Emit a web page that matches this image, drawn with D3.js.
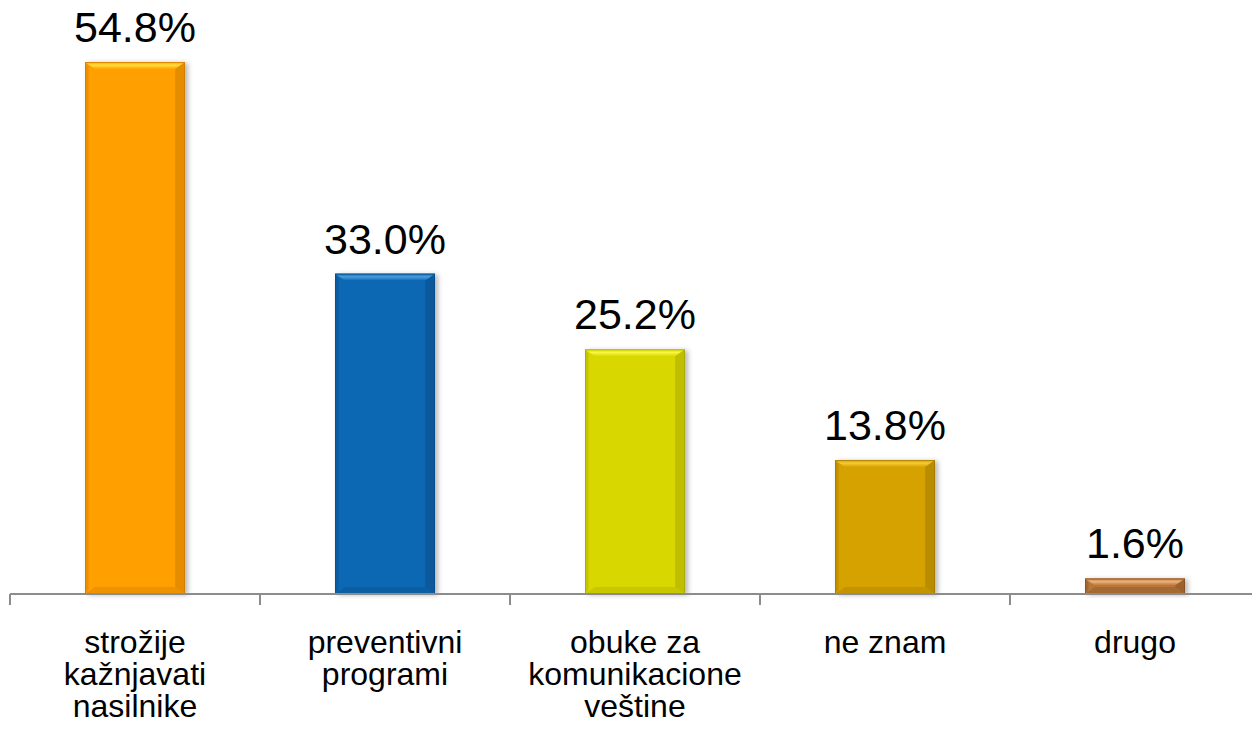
<!DOCTYPE html>
<html>
<head>
<meta charset="utf-8">
<script src="https://cdn.jsdelivr.net/npm/d3@7"></script>
<style>
  body { margin: 0; background: #fff; }
  text { font-family: Arial, "Liberation Sans", sans-serif; fill: #000; }
</style>
</head>
<body>
<svg id="chart" width="1252" height="730"></svg>
<script>
/* chart data */
const categories = ['strožije kažnjavati nasilnike', 'preventivni programi',
                    'obuke za komunikacione veštine', 'ne znam', 'drugo'];
const labelLines = [['strožije', 'kažnjavati', 'nasilnike'],
                    ['preventivni', 'programi'],
                    ['obuke za', 'komunikacione', 'veštine'],
                    ['ne znam'],
                    ['drugo']];
const values = [54.8, 33.0, 25.2, 13.8, 1.6];
const valueLabels = ['54.8%', '33.0%', '25.2%', '13.8%', '1.6%'];

// base, highlight, dark edge
const colors = [
    {base: '#ffa000', light: '#ffe040', dark: '#c77400'},
    {base: '#0b67b3', light: '#4a9ce0', dark: '#08487e'},
    {base: '#d8d800', light: '#f8f640', dark: '#a4a000'},
    {base: '#d6a200', light: '#f6ca36', dark: '#9a7200'},
    {base: '#b8773a', light: '#f0b07a', dark: '#7a4a1e'}
];

const BASE_Y = 594;
const BEVEL = 7;

let svg = d3.select('#chart');

let x = d3.scaleBand()
    .domain(categories)
    .range([10, 1260])
    .paddingInner(0.6)
    .paddingOuter(0.3);

let y = d3.scaleLinear()
    .domain([0, 60])
    .range([BASE_Y, BASE_Y - 60 * 9.708]);

let defs = svg.append('defs');
defs.append('filter')
    .attr('id', 'shadow')
    .attr('x', '-20%').attr('y', '-20%')
    .attr('width', '140%').attr('height', '140%')
    .append('feDropShadow')
    .attr('dx', 3).attr('dy', 1)
    .attr('stdDeviation', 2.5)
    .attr('flood-color', '#000')
    .attr('flood-opacity', 0.28);

/* bars with a bevel look */
categories.forEach(function(cat, i) {
    let x0 = x(cat), w = x.bandwidth();
    let top = y(values[i]), bottom = y(0);
    let h = bottom - top;
    let b = Math.min(BEVEL, h / 2);
    let c = colors[i];
    let g = svg.append('g').attr('class', 'bar');

    g.append('rect')
        .attr('x', x0).attr('y', top)
        .attr('width', w).attr('height', h)
        .attr('fill', c.base)
        .attr('filter', 'url(#shadow)');

    let grad = defs.append('linearGradient')
        .attr('id', 'topgrad' + i)
        .attr('x1', 0).attr('y1', 0).attr('x2', 0).attr('y2', 1);
    grad.append('stop').attr('offset', '0%').attr('stop-color', c.base);
    grad.append('stop').attr('offset', '45%').attr('stop-color', c.light);
    grad.append('stop').attr('offset', '100%').attr('stop-color', c.base);

    // top facet
    g.append('polygon')
        .attr('points', [[x0, top], [x0 + w, top], [x0 + w - b * 1.4, top + b], [x0 + b * 1.4, top + b]].join(' '))
        .attr('fill', 'url(#topgrad' + i + ')');
    // left facet
    g.append('polygon')
        .attr('points', [[x0, top], [x0 + b * 0.5, top + b * 0.6], [x0 + b * 0.5, bottom - b * 0.6], [x0, bottom]].join(' '))
        .attr('fill', c.dark).attr('opacity', 0.35);
    // right facet
    g.append('polygon')
        .attr('points', [[x0 + w, top], [x0 + w - b * 1.4, top + b], [x0 + w - b * 1.4, bottom - b], [x0 + w, bottom]].join(' '))
        .attr('fill', c.dark).attr('opacity', 0.45);
    // bottom facet
    g.append('polygon')
        .attr('points', [[x0, bottom], [x0 + b * 1.4, bottom - b], [x0 + w - b * 1.4, bottom - b], [x0 + w, bottom]].join(' '))
        .attr('fill', c.dark).attr('opacity', 0.3);
    g.append('rect')
        .attr('x', x0 + 0.5).attr('y', top + 0.5)
        .attr('width', w - 1).attr('height', h - 1)
        .attr('fill', 'none')
        .attr('stroke', c.dark).attr('stroke-width', 1).attr('opacity', 0.6);
});

/* value labels */
svg.selectAll('text.value')
    .data(values)
    .enter().append('text')
    .attr('class', 'value')
    .attr('x', (d, i) => x(categories[i]) + x.bandwidth() / 2)
    .attr('y', d => y(d) - 20)
    .attr('text-anchor', 'middle')
    .style('font-size', '43px')
    .text((d, i) => valueLabels[i]);

/* axis line and tick marks */
let axis = svg.append('g').attr('class', 'axis');
axis.append('line')
    .attr('x1', 10).attr('x2', 1252)
    .attr('y1', BASE_Y).attr('y2', BASE_Y)
    .attr('stroke', '#8c8c8c').attr('stroke-width', 2);
for (let i = 0; i <= categories.length; i++) {
    let tx = x.range()[0] + i * x.step();
    axis.append('line')
        .attr('x1', tx).attr('x2', tx)
        .attr('y1', BASE_Y).attr('y2', BASE_Y + 11)
        .attr('stroke', '#8c8c8c').attr('stroke-width', 2);
}

/* category labels */
categories.forEach(function(cat, i) {
    let t = svg.append('text')
        .attr('class', 'category')
        .attr('x', x(cat) + x.bandwidth() / 2)
        .attr('y', 653)
        .attr('text-anchor', 'middle')
        .style('font-size', '32px');
    labelLines[i].forEach(function(line, j) {
        t.append('tspan')
            .attr('x', x(cat) + x.bandwidth() / 2)
            .attr('dy', j === 0 ? 0 : 32)
            .text(line);
    });
});
</script>
</body>
</html>
